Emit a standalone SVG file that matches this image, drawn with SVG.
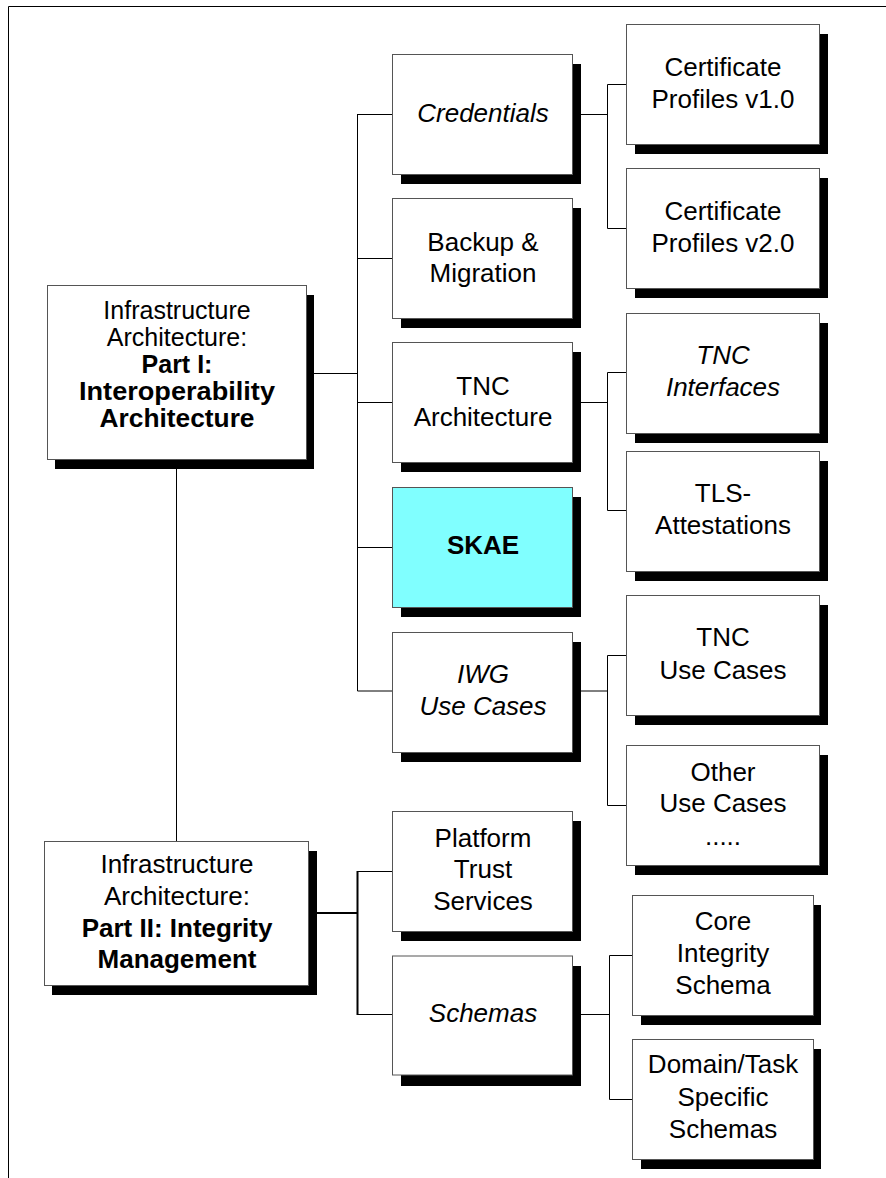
<svg xmlns="http://www.w3.org/2000/svg" width="886" height="1178" viewBox="0 0 886 1178">
<style>
.box{fill:#fff;stroke:#555;stroke-width:1}
.sh{fill:#000}
.ln{fill:none;stroke:#000;stroke-width:1}
.lnb{fill:none;stroke:#000;stroke-width:2}
text{font-family:"Liberation Sans",Arial,sans-serif;font-size:26px;fill:#000;text-anchor:middle}
.i{font-style:italic}
.b{font-weight:bold}
.s{font-size:25px}
</style>
<rect width="886" height="1178" fill="#fff"/>
<path class="ln" d="M8.5 1178V6.5H886" stroke-width="1.5"/>
<g id="connectors">
<path class="ln" d="M176.5 459V841"/>
<path class="ln" d="M314 373.5H357.5M357.5 114V691M357.5 114.5H393M357.5 258.5H393M357.5 402.5H393M357.5 547.5H393M357.5 691H393"/>
<path class="ln" d="M580 114.5H607.5M607.5 84.5V228.5M607.5 84.5H627M607.5 228.5H627"/>
<path class="ln" d="M580 402.5H607.5M607.5 372.5V510.5M607.5 372.5H627M607.5 510.5H627"/>
<path class="ln" d="M580 691H607.5M607.5 655.5V805.5M607.5 655.5H627M607.5 805.5H627"/>
<path class="lnb" d="M316 913H357.5M357.5 871V1015"/>
<path class="ln" d="M357.5 871.5H393M357.5 1014.5H393"/>
<path class="ln" d="M573 1014.5H609.5M609.5 955.5V1099.5M609.5 955.5H633M609.5 1099.5H633"/>
</g>
<g id="part1">
<rect class="sh" x="55" y="295" width="259" height="174"/>
<rect class="box" x="47.5" y="285.5" width="259" height="174"/>
<text class="s" x="177" y="319">Infrastructure</text>
<text class="s" x="177" y="346">Architecture:</text>
<text class="s b" x="177" y="373">Part I:</text>
<text class="s b" x="177" y="400" textLength="196" lengthAdjust="spacingAndGlyphs">Interoperability</text>
<text class="s b" x="177" y="426.5" textLength="155" lengthAdjust="spacingAndGlyphs">Architecture</text>
</g>
<g id="part2">
<rect class="sh" x="52" y="851" width="265" height="144"/>
<rect class="box" x="44.5" y="841.5" width="264" height="144"/>
<text x="177" y="873">Infrastructure</text>
<text x="177" y="905">Architecture:</text>
<text class="b" x="177" y="937">Part II: Integrity</text>
<text class="b" x="177" y="968">Management</text>
</g>
<g id="credentials">
<rect class="sh" x="401" y="64" width="180" height="120"/>
<rect class="box" x="392.5" y="54.5" width="180" height="120"/>
<text class="i" x="483" y="122">Credentials</text>
</g>
<g id="backup">
<rect class="sh" x="401" y="208" width="180" height="120"/>
<rect class="box" x="392.5" y="198.5" width="180" height="120"/>
<text x="483" y="251">Backup &amp;</text>
<text x="483" y="282">Migration</text>
</g>
<g id="tnc-arch">
<rect class="sh" x="401" y="352" width="180" height="120"/>
<rect class="box" x="392.5" y="342.5" width="180" height="120"/>
<text x="483" y="395">TNC</text>
<text x="483" y="426">Architecture</text>
</g>
<g id="skae">
<rect class="sh" x="401" y="497" width="180" height="120"/>
<rect class="box" x="392.5" y="487.5" width="180" height="120" style="fill:#80ffff"/>
<text class="b" x="483" y="554">SKAE</text>
</g>
<g id="iwg">
<rect class="sh" x="401" y="642" width="180" height="120"/>
<rect class="box" x="392.5" y="632.5" width="180" height="120"/>
<text class="i" x="483" y="683">IWG</text>
<text class="i" x="483" y="715">Use Cases</text>
</g>
<g id="cert1">
<rect class="sh" x="635" y="34" width="193" height="120"/>
<rect class="box" x="626.5" y="24.5" width="193" height="120"/>
<text x="723" y="76">Certificate</text>
<text x="723" y="108">Profiles v1.0</text>
</g>
<g id="cert2">
<rect class="sh" x="635" y="178" width="193" height="120"/>
<rect class="box" x="626.5" y="168.5" width="193" height="120"/>
<text x="723" y="220">Certificate</text>
<text x="723" y="252">Profiles v2.0</text>
</g>
<g id="tnc-if">
<rect class="sh" x="635" y="323" width="193" height="120"/>
<rect class="box" x="626.5" y="313.5" width="193" height="120"/>
<text class="i" x="723" y="364">TNC</text>
<text class="i" x="723" y="396">Interfaces</text>
</g>
<g id="tls">
<rect class="sh" x="635" y="461" width="193" height="120"/>
<rect class="box" x="626.5" y="451.5" width="193" height="120"/>
<text x="723" y="502">TLS-</text>
<text x="723" y="534">Attestations</text>
</g>
<g id="tnc-uc">
<rect class="sh" x="635" y="605" width="193" height="120"/>
<rect class="box" x="626.5" y="595.5" width="193" height="120"/>
<text x="723" y="646">TNC</text>
<text x="723" y="679">Use Cases</text>
</g>
<g id="other-uc">
<rect class="sh" x="635" y="755" width="193" height="120"/>
<rect class="box" x="626.5" y="745.5" width="193" height="120"/>
<text x="723" y="781">Other</text>
<text x="723" y="812">Use Cases</text>
<text x="723" y="845">.....</text>
</g>
<g id="pts">
<rect class="sh" x="401" y="821" width="180" height="120"/>
<rect class="box" x="392.5" y="811.5" width="180" height="120"/>
<text x="483" y="847">Platform</text>
<text x="483" y="878">Trust</text>
<text x="483" y="910">Services</text>
</g>
<g id="schemas">
<rect class="sh" x="401" y="966" width="180" height="120"/>
<rect class="box" x="392.5" y="956" width="180" height="119"/>
<text class="i" x="483" y="1022">Schemas</text>
</g>
<g id="core">
<rect class="sh" x="641" y="905" width="180" height="120"/>
<rect class="box" x="632.5" y="895.5" width="181" height="120"/>
<text x="723" y="930">Core</text>
<text x="723" y="962">Integrity</text>
<text x="723" y="994">Schema</text>
</g>
<g id="domain">
<rect class="sh" x="641" y="1049" width="180" height="120"/>
<rect class="box" x="632.5" y="1039.5" width="181" height="120"/>
<text x="723" y="1073">Domain/Task</text>
<text x="723" y="1106">Specific</text>
<text x="723" y="1138">Schemas</text>
</g>
</svg>
